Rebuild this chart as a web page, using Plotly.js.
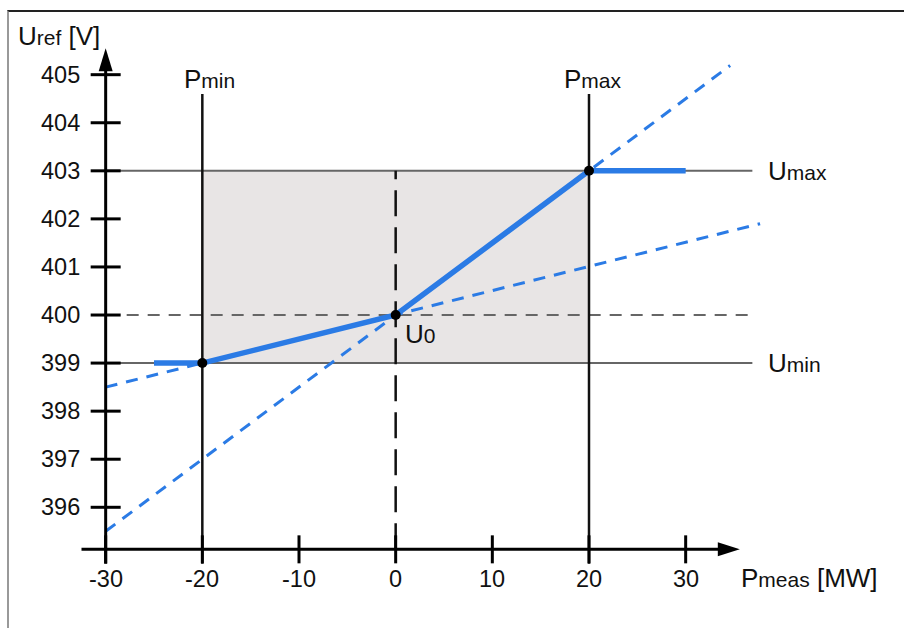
<!DOCTYPE html>
<html><head><meta charset="utf-8">
<script src="https://cdn.plot.ly/plotly-3.0.1.min.js"></script>
<style>
html,body{margin:0;padding:0;background:#fff;}
#wrap{position:relative;width:904px;height:628px;}
#chart{width:904px;height:628px;}
#frame{position:absolute;left:7px;top:10px;right:0;bottom:0;border-top:2px solid #222;border-left:2px solid #999;pointer-events:none;}
</style></head>
<body>
<div id="wrap"><div id="chart"></div><div id="frame"></div></div>
<script>
// ---- data ----
const xTicks = [-30, -20, -10, 0, 10, 20, 30];
const yTicks = [396, 397, 398, 399, 400, 401, 402, 403, 404, 405];
const Pmin = -20, Pmax = 20;
const Umin = 399, Umax = 403, U0 = 400;
// control characteristic (solid blue)
const ctrlP = [-25, -20, 0, 20, 30];
const ctrlU = [399, 399, 400, 403, 403];
// marked points
const keyP = [-20, 0, 20];
const keyU = [399, 400, 403];
// steep droop (dashed blue)
const steepP = [-30, 34.6];
const steepU = [395.5, 405.19];
// shallow droop (dashed blue)
const shallowP = [-30, 37.7];
const shallowU = [398.5, 401.9];
// band / reference lines
const bandP = [-20, 20, 20, -20, -20];
const bandU = [399, 399, 403, 403, 399];
const refLineP = [-30, 36.9];
const xAxisU = 395.125;   // position of P axis
const yAxisP = -30;       // position of U axis
const xAxisStart = -32.5, xAxisEnd = 35.6;
const yAxisTop = 405.55;
const vLineTop = 404.6;

const blue = '#2b7be5';
const traces = [
  {x: bandP, y: bandU, mode: 'lines', fill: 'toself', fillcolor: '#e8e5e5', line: {width: 0}, hoverinfo: 'skip'},
  {x: refLineP, y: [Umax, Umax], mode: 'lines', line: {color: '#666', width: 2}},
  {x: refLineP, y: [Umin, Umin], mode: 'lines', line: {color: '#666', width: 2}},
  {x: refLineP, y: [U0, U0], mode: 'lines', line: {color: '#666', width: 2, dash: '12px,9px'}},
  {x: [0, 0], y: [xAxisU, Umax], mode: 'lines', line: {color: '#111', width: 2.5, dash: '26px,11px'}},
  {x: [Pmin, Pmin], y: [xAxisU - 0.3, vLineTop], mode: 'lines', line: {color: '#111', width: 2.5}},
  {x: [Pmax, Pmax], y: [xAxisU - 0.3, vLineTop], mode: 'lines', line: {color: '#111', width: 2.5}},
  {x: steepP, y: steepU, mode: 'lines', line: {color: blue, width: 3, dash: '12px,9px'}},
  {x: shallowP, y: shallowU, mode: 'lines', line: {color: blue, width: 3, dash: '12px,9px'}},
  {x: ctrlP, y: ctrlU, mode: 'lines', line: {color: blue, width: 5.5}},
  {x: keyP, y: keyU, mode: 'markers', marker: {color: '#000', size: 10}}
];

const shapes = [
  // P axis line
  {type: 'line', xref: 'x', yref: 'y', x0: xAxisStart, x1: xAxisEnd - 2, y0: xAxisU, y1: xAxisU, line: {color: '#000', width: 3}, layer: 'above'},
  // U axis line
  {type: 'line', xref: 'x', yref: 'y', x0: yAxisP, x1: yAxisP, y0: xAxisU - 0.3, y1: yAxisTop - 0.3, line: {color: '#000', width: 3}, layer: 'above'},
  // arrowheads
  {type: 'path', xref: 'x', yref: 'y', xsizemode: 'pixel', ysizemode: 'pixel', xanchor: xAxisEnd, yanchor: xAxisU,
   path: 'M 0 0 L -22 -7 L -22 7 Z', fillcolor: '#000', line: {width: 0}, layer: 'above'},
  {type: 'path', xref: 'x', yref: 'y', xsizemode: 'pixel', ysizemode: 'pixel', xanchor: yAxisP, yanchor: yAxisTop,
   path: 'M 0 0 L -7 -23 L 7 -23 Z', fillcolor: '#000', line: {width: 0}, layer: 'above'}
];
xTicks.forEach(v => shapes.push({type: 'line', xref: 'x', yref: 'y', ysizemode: 'pixel', yanchor: xAxisU,
  x0: v, x1: v, y0: -14, y1: 14, line: {color: '#000', width: 3}, layer: 'above'}));
yTicks.forEach(v => shapes.push({type: 'line', xref: 'x', yref: 'y', xsizemode: 'pixel', xanchor: yAxisP,
  y0: v, y1: v, x0: -15, x1: 15, line: {color: '#000', width: 3}, layer: 'above'}));

const fnt = {family: 'Liberation Sans, Arial, sans-serif', size: 23.5, color: '#111'};
const big = {family: 'Liberation Sans, Arial, sans-serif', size: 26, color: '#111'};
const sub = s => "<span style='font-size:21px'>" + s + "</span>";
const annotations = [];
xTicks.forEach(v => annotations.push({x: v, y: xAxisU, text: String(v), showarrow: false, yshift: -30, yanchor: 'middle', xanchor: 'center', font: fnt}));
yTicks.forEach(v => annotations.push({x: yAxisP, y: v, text: String(v), showarrow: false, xshift: -24, xanchor: 'right', yanchor: 'middle', font: fnt}));
annotations.push(
  {x: Pmin, y: 404.9, text: 'P' + sub('min'), showarrow: false, xshift: 7, font: big},
  {x: Pmax, y: 404.9, text: 'P' + sub('max'), showarrow: false, xshift: 4, font: big},
  {x: 38.3, y: Umax, text: 'U' + sub('max'), showarrow: false, xanchor: 'left', font: big},
  {x: 38.3, y: Umin, text: 'U' + sub('min'), showarrow: false, xanchor: 'left', font: big},
  {x: 0, y: U0, text: 'U' + sub('0'), showarrow: false, xanchor: 'left', xshift: 7, yshift: -19, font: big},
  {x: yAxisP, y: 405.8, text: 'U' + sub('ref') + ' [V]', showarrow: false, xanchor: 'right', xshift: -4, font: big},
  {x: 35.5, y: 394.52, text: 'P' + sub('meas') + ' [MW]', showarrow: false, xanchor: 'left', font: big}
);

const layout = {
  width: 904, height: 628,
  margin: {l: 66.8, r: 25.2, t: 17.4, b: 39.4},
  paper_bgcolor: 'rgba(0,0,0,0)', plot_bgcolor: 'rgba(0,0,0,0)',
  showlegend: false,
  xaxis: {range: [-34, 50], visible: false, fixedrange: true},
  yaxis: {range: [394.3, 406.2], visible: false, fixedrange: true},
  shapes: shapes,
  annotations: annotations
};
Plotly.newPlot('chart', traces, layout, {displayModeBar: false, staticPlot: true});
</script>
</body></html>
